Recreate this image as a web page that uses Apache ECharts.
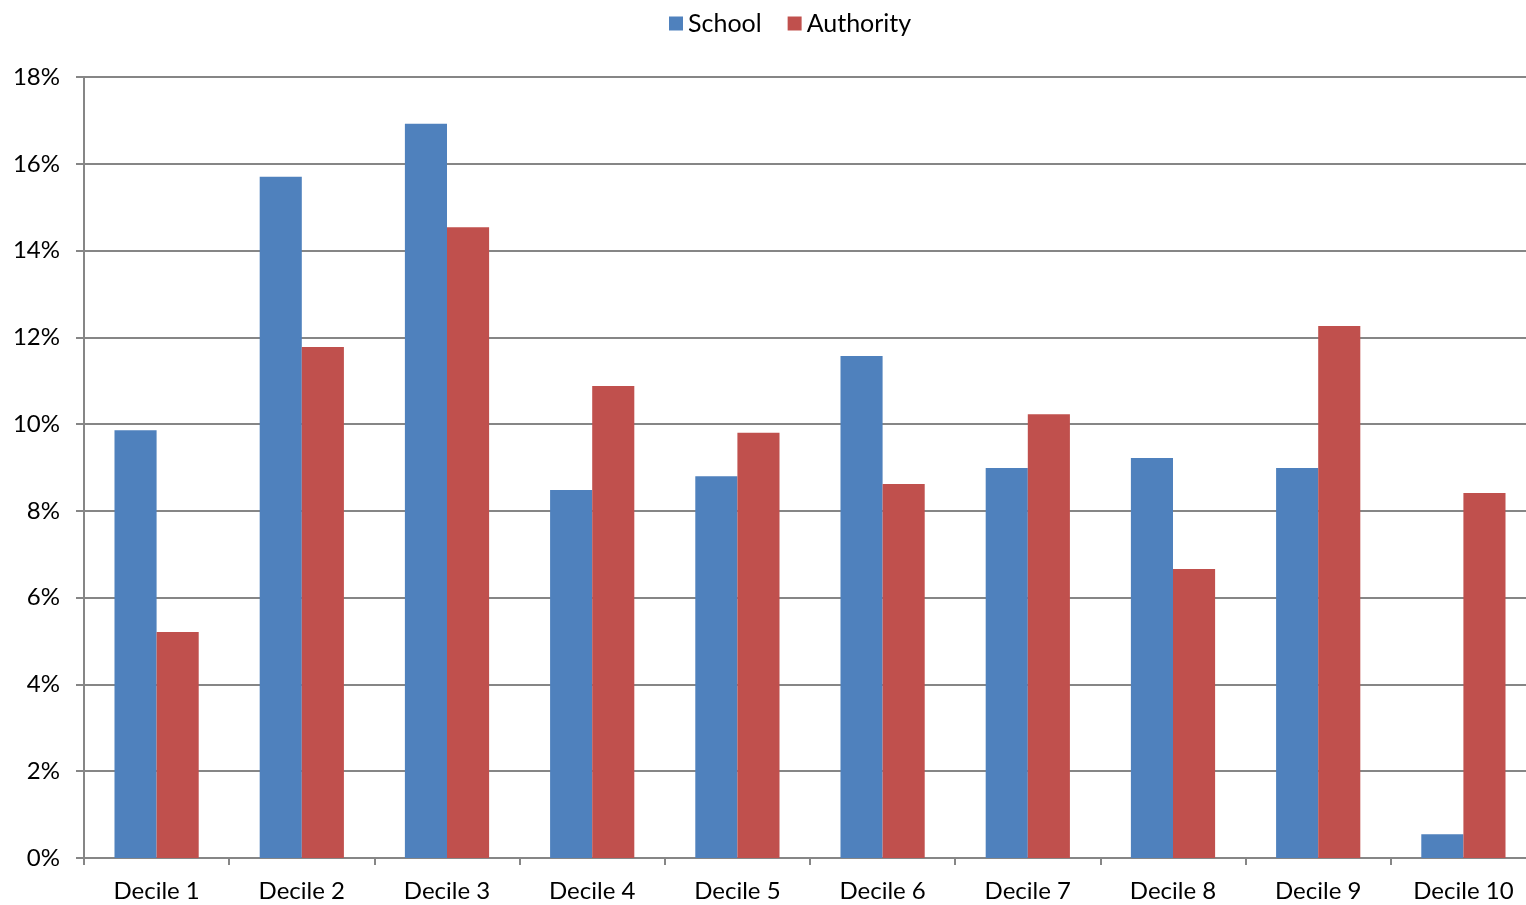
<!DOCTYPE html>
<html>
<head>
<meta charset="utf-8">
<script src="https://cdn.jsdelivr.net/npm/echarts@6/dist/echarts.min.js"></script>
<style>
  html, body { margin: 0; padding: 0; background: #fff; }
  #chart { width: 1526px; height: 905px; }
</style>
</head>
<body>
<div id="chart"></div>
<script>
  var categories = ['Decile 1', 'Decile 2', 'Decile 3', 'Decile 4', 'Decile 5',
                    'Decile 6', 'Decile 7', 'Decile 8', 'Decile 9', 'Decile 10'];
  var school = [9.86, 15.70, 16.92, 8.48, 8.80, 11.57, 8.99, 9.22, 8.99, 0.55];
  var authority = [5.21, 11.78, 14.54, 10.88, 9.80, 8.62, 10.23, 6.66, 12.26, 8.41];

  var gray = '#868686';
  var font = 'Lato, "Open Sans", sans-serif';

  var myChart = echarts.init(document.getElementById('chart'));
  myChart.setOption({
    animation: false,
    textStyle: { fontFamily: font },
    legend: {
      data: ['School', 'Authority'],
      top: 6,
      left: 664,
      icon: 'rect',
      itemWidth: 14,
      itemHeight: 14,
      itemGap: 26,
      textStyle: { fontSize: 25, color: '#000', fontFamily: font }
    },
    // plot runs a little past the right edge, as in the reference
    grid: {
      left: 84, width: 1452, top: 77, bottom: 47,
      containLabel: false,
      outerBoundsMode: 'none'
    },
    xAxis: {
      type: 'category',
      data: categories,
      axisLine: { lineStyle: { color: gray, width: 2 } },
      axisTick: { show: true, length: 7, lineStyle: { color: gray, width: 2 } },
      axisLabel: { fontSize: 24, color: '#000', margin: 21, fontFamily: font }
    },
    yAxis: {
      type: 'value',
      min: 0,
      max: 18,
      interval: 2,
      axisLine: { show: true, lineStyle: { color: gray, width: 2 } },
      axisTick: { show: true, length: 8, lineStyle: { color: gray, width: 2 } },
      axisLabel: { fontSize: 24, color: '#000', margin: 24, formatter: '{value}%', fontFamily: font },
      splitLine: { lineStyle: { color: gray, width: 2 } }
    },
    series: [
      {
        name: 'School',
        type: 'bar',
        data: school,
        barGap: '0%',
        barCategoryGap: '42%',
        itemStyle: { color: '#4F81BD' }
      },
      {
        name: 'Authority',
        type: 'bar',
        data: authority,
        barGap: '0%',
        barCategoryGap: '42%',
        itemStyle: { color: '#C0504D' }
      }
    ]
  });
</script>
</body>
</html>
